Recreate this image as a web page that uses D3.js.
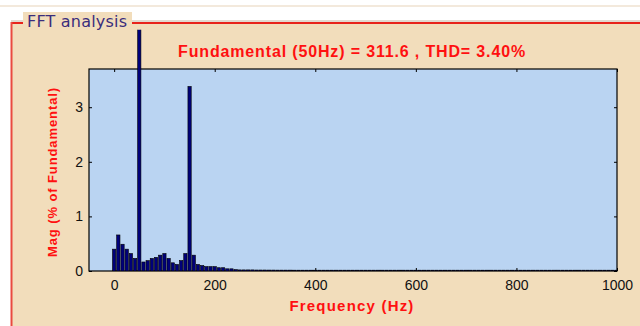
<!DOCTYPE html>
<html>
<head>
<meta charset="utf-8">
<script src="https://cdn.jsdelivr.net/npm/d3@7/dist/d3.min.js"></script>
<style>
  html, body { margin: 0; padding: 0; background: #ffffff; }
  svg { display: block; }
</style>
</head>
<body>
<div id="chart"></div>
<script>
// ---- Data ----
const freqs = [0, 8.33, 16.67, 25, 33.33, 41.67, 50, 58.33, 66.67, 75, 83.33, 91.67, 100, 108.33, 116.67, 125,
  133.33, 141.67, 150, 158.33, 166.67, 175, 183.33, 191.67, 200, 208.33, 216.67, 225, 233.33, 241.67,
  250, 258.33, 266.67, 275, 283.33, 291.67, 300, 308.33, 316.67, 325, 333.33, 341.67, 350, 358.33,
  366.67, 375, 383.33, 391.67, 400, 408.33, 416.67, 425, 433.33, 441.67, 450, 458.33, 466.67, 475,
  483.33, 491.67, 500, 508.33, 516.67, 525, 533.33, 541.67, 550, 558.33, 566.67, 575, 583.33, 591.67,
  600, 608.33, 616.67, 625, 633.33, 641.67, 650, 658.33, 666.67, 675, 683.33, 691.67, 700, 708.33,
  716.67, 725, 733.33, 741.67, 750, 758.33, 766.67, 775, 783.33, 791.67, 800, 808.33, 816.67, 825,
  833.33, 841.67, 850, 858.33, 866.67, 875, 883.33, 891.67, 900, 908.33, 916.67, 925, 933.33, 941.67,
  950, 958.33, 966.67, 975, 983.33, 991.67, 1000];

const mags = [0.40, 0.66, 0.49, 0.40, 0.32, 0.23, 100, 0.165, 0.19, 0.23, 0.25, 0.29, 0.32, 0.23, 0.15, 0.12,
  0.19, 0.32, 3.38, 0.29, 0.12, 0.10, 0.08, 0.08, 0.08, 0.06, 0.06, 0.04, 0.04, 0.025,
  0.02, 0.02, 0.02, 0.02, 0.018, 0.018, 0.018, 0.017, 0.017, 0.016, 0.016, 0.016, 0.016, 0.015,
  0.015, 0.015, 0.015, 0.015, 0.015, 0.015, 0.015, 0.015, 0.015, 0.015, 0.015, 0.015, 0.015, 0.015,
  0.015, 0.015, 0.015, 0.015, 0.015, 0.015, 0.015, 0.015, 0.015, 0.015, 0.015, 0.015, 0.015, 0.015,
  0.015, 0.015, 0.015, 0.015, 0.015, 0.015, 0.015, 0.015, 0.015, 0.015, 0.015, 0.015, 0.015, 0.015,
  0.015, 0.015, 0.015, 0.015, 0.015, 0.015, 0.015, 0.015, 0.015, 0.015, 0.015, 0.015, 0.015, 0.015,
  0.015, 0.015, 0.015, 0.015, 0.015, 0.015, 0.015, 0.015, 0.015, 0.015, 0.015, 0.015, 0.015, 0.015,
  0.015, 0.015, 0.015, 0.015, 0.015, 0.015, 0.015];

const xTicks = [0, 200, 400, 600, 800, 1000];
const yTicks = [0, 1, 2, 3];
const xDomain = [-50, 1000];
const yDomain = [0, 3.7];
const barClipTop = 4.42;   // the off-scale fundamental bar is cut here

const panelTitle = "FFT analysis";
const chartTitle = "Fundamental (50Hz) = 311.6 , THD= 3.40%";
const xLabel = "Frequency (Hz)";
const yLabel = "Mag (% of Fundamental)";

// ---- Layout ----
const W = 640, H = 326;
const plot = { left: 89, right: 617, top: 69, bottom: 271 };

const svg = d3.select("#chart").append("svg").attr("width", W).attr("height", H);

// page / panel background
svg.append("rect").attr("x", 0).attr("y", 0).attr("width", W).attr("height", H).attr("fill", "#ffffff");
svg.append("rect").attr("x", 0).attr("y", 5).attr("width", W).attr("height", 2).attr("fill", "#f3e9dc");
svg.append("rect").attr("x", 11).attr("y", 22).attr("width", W - 11).attr("height", H - 22).attr("fill", "#f2ddbb");
svg.append("line").attr("x1", 11).attr("x2", W).attr("y1", 21).attr("y2", 21).attr("stroke", "#c4b4a2").attr("stroke-width", 1);
svg.append("line").attr("x1", 11).attr("x2", W).attr("y1", 23).attr("y2", 23).attr("stroke", "#e8231b").attr("stroke-width", 2);
svg.append("line").attr("x1", 11.5).attr("x2", 11.5).attr("y1", 22).attr("y2", H).attr("stroke", "#ea4a40").attr("stroke-width", 2);

// panel legend box
svg.append("rect").attr("x", 23).attr("y", 12).attr("width", 109).attr("height", 18).attr("fill", "#f2ddbb");
svg.append("text").attr("x", 27).attr("y", 27)
  .attr("font-family", "DejaVu Sans").attr("font-size", 16).attr("letter-spacing", 0.2).attr("fill", "#3a2d7c")
  .text(panelTitle);

// ---- Scales ----
const x = d3.scaleLinear().domain(xDomain).range([plot.left, plot.right]);
const y = d3.scaleLinear().domain(yDomain).range([plot.bottom, plot.top]);

// plot area
svg.append("rect")
  .attr("x", plot.left).attr("y", plot.top)
  .attr("width", plot.right - plot.left).attr("height", plot.bottom - plot.top)
  .attr("fill", "#bad4f2").attr("stroke", "#000").attr("stroke-width", 1.2);

// axes (inward ticks, MATLAB style box)
const fontTick = "Liberation Sans";
const fmt = d3.format("d");
function styleAxis(g) {
  g.select(".domain").remove();
  g.selectAll(".tick line").attr("stroke", "#000");
  g.selectAll(".tick text").attr("font-family", fontTick).attr("font-size", 14).attr("fill", "#111");
}
svg.append("g").attr("transform", `translate(0,${plot.bottom})`)
  .call(d3.axisBottom(x).tickValues(xTicks).tickFormat(fmt).tickSizeInner(-3).tickSizeOuter(0).tickPadding(9.5))
  .call(styleAxis);
svg.append("g").attr("transform", `translate(0,${plot.top})`)
  .call(d3.axisTop(x).tickValues(xTicks).tickSizeInner(-3).tickSizeOuter(0).tickFormat(""))
  .call(styleAxis);
svg.append("g").attr("transform", `translate(${plot.left},0)`)
  .call(d3.axisLeft(y).tickValues(yTicks).tickFormat(fmt).tickSizeInner(-3).tickSizeOuter(0).tickPadding(6))
  .call(styleAxis);
svg.append("g").attr("transform", `translate(${plot.right},0)`)
  .call(d3.axisRight(y).tickValues(yTicks).tickSizeInner(-3).tickSizeOuter(0).tickFormat(""))
  .call(styleAxis);

// ---- Bars ----
svg.append("clipPath").attr("id", "barclip").append("rect")
  .attr("x", plot.left).attr("y", y(barClipTop))
  .attr("width", plot.right - plot.left).attr("height", plot.bottom - y(barClipTop));

const binW = (x(freqs[1]) - x(freqs[0])) * 0.78;
const bars = freqs.map((f, i) => ({ f, m: mags[i] }));
svg.append("g").attr("clip-path", "url(#barclip)")
  .selectAll("rect").data(bars).join("rect")
  .attr("x", d => x(d.f) - binW / 2)
  .attr("width", binW)
  .attr("y", d => y(d.m))
  .attr("height", d => y(0) - y(d.m))
  .attr("fill", "#00007a")
  .attr("stroke", "#000")
  .attr("stroke-width", 0.6);

// ---- Texts ----
svg.append("text").attr("x", 352).attr("y", 57).attr("text-anchor", "middle")
  .attr("font-family", "Liberation Sans").attr("font-weight", "bold").attr("font-size", 16)
  .attr("letter-spacing", 0.85)
  .attr("fill", "#ff1010").text(chartTitle);

svg.append("text").attr("x", (x(xDomain[0]) + x(xDomain[1])) / 2 - 1).attr("y", 311).attr("text-anchor", "middle")
  .attr("font-family", "Liberation Sans").attr("font-weight", "bold").attr("font-size", 15)
  .attr("letter-spacing", 1.2)
  .attr("fill", "#ff1010").text(xLabel);

svg.append("text")
  .attr("transform", `translate(57,${(plot.top + plot.bottom) / 2 + 2}) rotate(-90)`)
  .attr("text-anchor", "middle")
  .attr("font-family", "Liberation Sans").attr("font-weight", "bold").attr("font-size", 13)
  .attr("letter-spacing", 0.9)
  .attr("fill", "#ff1010").text(yLabel);
</script>
</body>
</html>
